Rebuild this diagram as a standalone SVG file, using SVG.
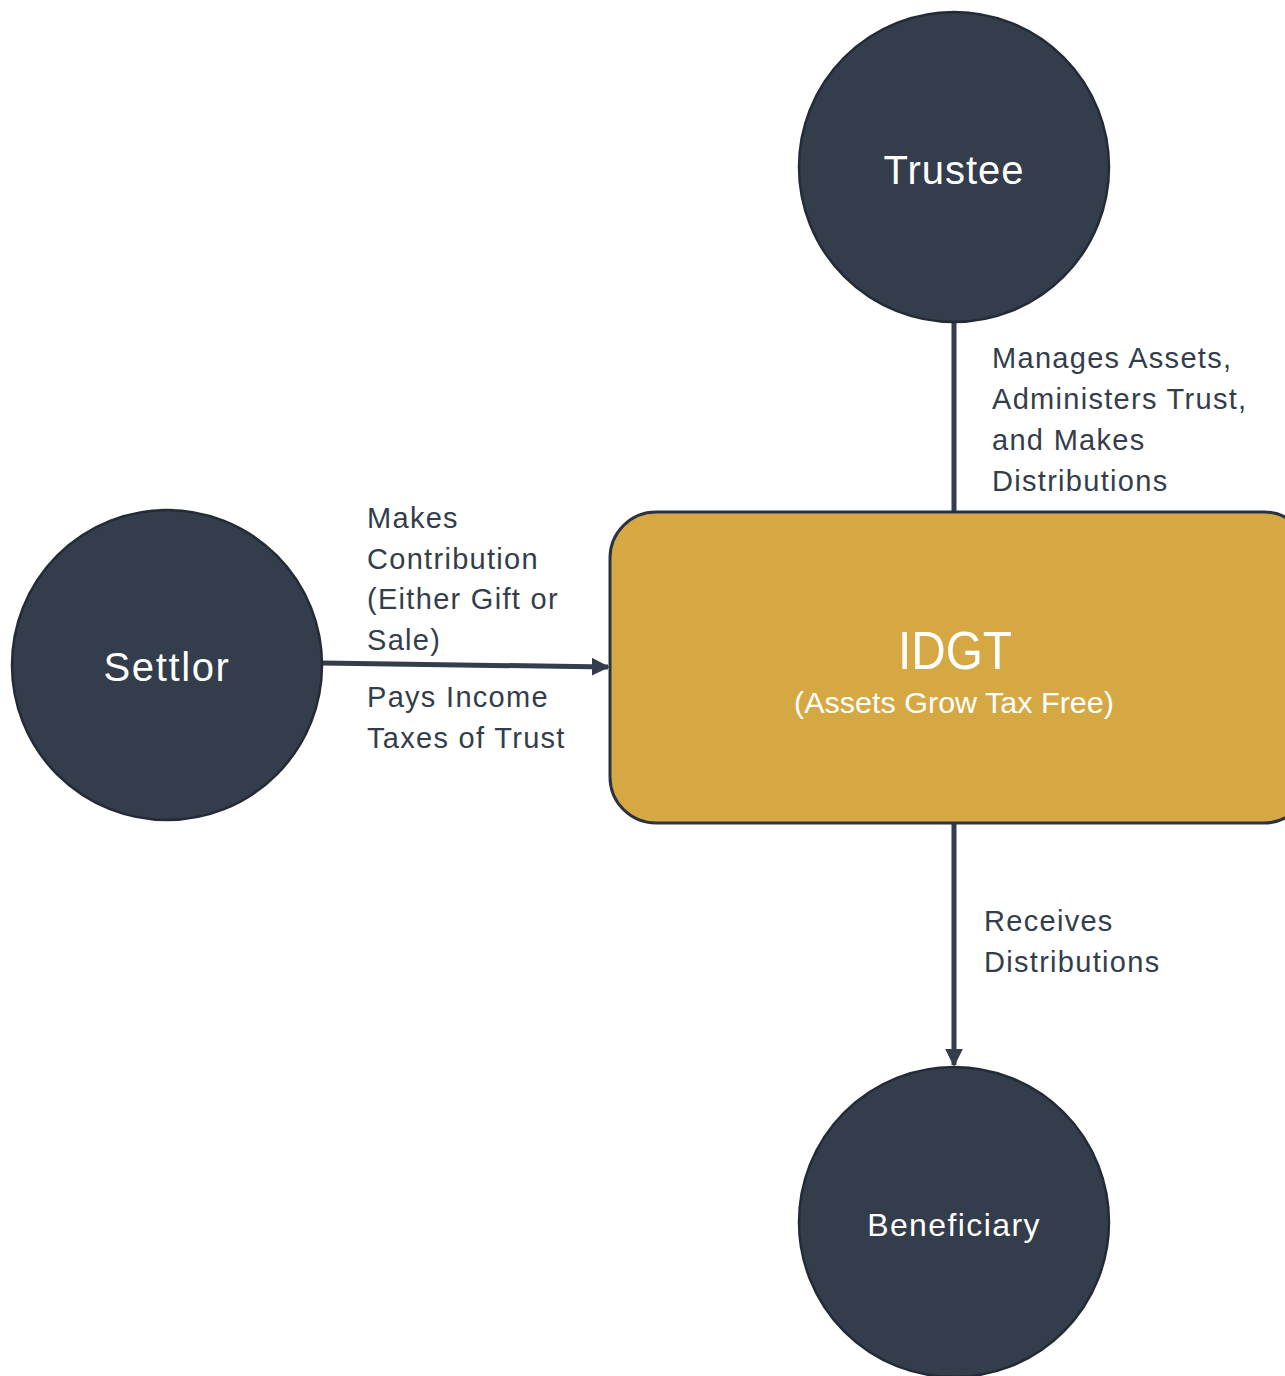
<svg xmlns="http://www.w3.org/2000/svg" width="1285" height="1376" viewBox="0 0 1285 1376">
  <style>
    .party { fill: #333d4b; stroke: #232b36; stroke-width: 2.5; }
    .trust { fill: #d5a843; stroke: #2b3340; stroke-width: 3; }
    .name { font-family: "Liberation Sans", Arial, sans-serif; fill: #ffffff; text-anchor: middle; }
    .label { font-family: "Liberation Sans", Arial, sans-serif; font-size: 29px; letter-spacing: 1.3px; fill: #333d4b; }
    .link { stroke: #333d4b; stroke-width: 5; fill: none; }
  </style>
  <defs>
    <marker id="arrow" viewBox="0 0 10 10" refX="9" refY="5" markerWidth="3.6" markerHeight="3.6" orient="auto" markerUnits="strokeWidth">
      <path d="M0,0 L10,5 L0,10 z" fill="#333d4b"/>
    </marker>
  </defs>
  <rect width="1285" height="1376" fill="#ffffff"/>

  <g id="connectors">
    <line class="link" x1="954" y1="323" x2="954" y2="512"/>
    <line class="link" x1="322" y1="663" x2="608" y2="667" marker-end="url(#arrow)"/>
    <line class="link" x1="954" y1="823" x2="954" y2="1065" marker-end="url(#arrow)"/>
  </g>

  <g id="trustee">
    <circle class="party" cx="954" cy="167" r="155"/>
    <text class="name" x="954" y="184" font-size="40" letter-spacing="1">Trustee</text>
  </g>

  <g id="settlor">
    <circle class="party" cx="167" cy="665" r="155"/>
    <text class="name" x="167" y="681" font-size="40" letter-spacing="1.6">Settlor</text>
  </g>

  <g id="idgt">
    <rect class="trust" x="610" y="512" width="700" height="311" rx="46" ry="46"/>
    <text class="name" x="955" y="669" font-size="54" textLength="114" lengthAdjust="spacingAndGlyphs">IDGT</text>
    <text class="name" x="954" y="713" font-size="29" textLength="320" lengthAdjust="spacingAndGlyphs">(Assets Grow Tax Free)</text>
  </g>

  <g id="beneficiary">
    <circle class="party" cx="954" cy="1222" r="155"/>
    <text class="name" x="954" y="1236" font-size="32" letter-spacing="1.4">Beneficiary</text>
  </g>

  <g id="labels">
    <text class="label" x="992" y="368">Manages Assets,</text>
    <text class="label" x="992" y="409">Administers Trust,</text>
    <text class="label" x="992" y="450">and Makes</text>
    <text class="label" x="992" y="491">Distributions</text>

    <text class="label" x="367" y="528">Makes</text>
    <text class="label" x="367" y="569">Contribution</text>
    <text class="label" x="367" y="609">(Either Gift or</text>
    <text class="label" x="367" y="650">Sale)</text>
    <text class="label" x="367" y="707">Pays Income</text>
    <text class="label" x="367" y="748">Taxes of Trust</text>

    <text class="label" x="984" y="931">Receives</text>
    <text class="label" x="984" y="972">Distributions</text>
  </g>
</svg>
